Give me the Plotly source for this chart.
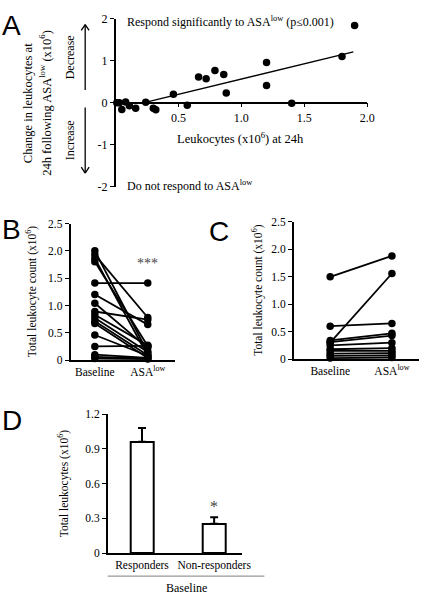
import plotly.graph_objects as go

W, H = 432, 604
SERIF = "Liberation Serif"
SANS = "Liberation Sans"

# ---------------- Data ----------------
# Panel A: leukocytes at 24h vs change following ASA-low
a_x = [0.01, 0.03, 0.05, 0.08, 0.11, 0.16, 0.24, 0.30, 0.32, 0.46, 0.57,
       0.66, 0.72, 0.79, 0.86, 0.88, 1.20, 1.20, 1.40, 1.80, 1.90]
a_y = [0.00, 0.00, -0.16, 0.02, -0.07, -0.13, 0.01, -0.13, -0.17, 0.20, -0.06,
       0.61, 0.57, 0.77, 0.67, 0.23, 0.96, 0.41, -0.01, 1.10, 1.84]
fit_slope, fit_intercept = 0.726, -0.162
fit_x = [0.22, 1.89]

# Panel B: responders, baseline -> ASA-low
b_categories = ["Baseline", "ASA<sup>low</sup>"]
b_baseline = [2.00, 1.93, 1.86, 1.80, 1.41, 1.20, 1.04, 0.89, 0.83, 0.77, 0.71,
              0.67, 0.46, 0.25, 0.10, 0.06, 0.03]
b_asa = [0.14, 0.78, 0.08, 0.26, 1.41, 0.65, 0.22, 0.74, 0.27, 0.15, 0.09,
         0.04, 0.08, 0.26, 0.04, 0.03, 0.02]

# Panel C: non-responders, baseline -> ASA-low
c_baseline = [1.50, 0.60, 0.30, 0.34, 0.31, 0.25, 0.18, 0.15, 0.10, 0.06, 0.02]
c_asa = [1.88, 0.65, 1.56, 0.47, 0.43, 0.30, 0.20, 0.15, 0.11, 0.07, 0.03]

# Panel D: baseline totals
d_categories = ["Responders", "Non-responders"]
d_values = [0.96, 0.253]
d_errors = [0.12, 0.057]

yticks_bc = [0, 0.5, 1.0, 1.5, 2.0, 2.5]
yticktext_bc = ["0", "0.5", "1.0", "1.5", "2.0", "2.5"]
yticks_d = [0, 0.3, 0.6, 0.9, 1.2]
yticktext_d = ["0", "0.3", "0.6", "0.9", "1.2"]


def px(x):
    return x / W


def py(y):
    return 1 - y / H


fig = go.Figure()

# ---- Panel A ----
fig.add_trace(go.Scatter(
    x=fit_x, y=[fit_slope * v + fit_intercept for v in fit_x],
    mode="lines", line=dict(color="black", width=1.3),
    xaxis="x", yaxis="y", showlegend=False, hoverinfo="skip"))
fig.add_trace(go.Scatter(
    x=a_x, y=a_y, mode="markers",
    marker=dict(color="black", size=7.5),
    xaxis="x", yaxis="y", showlegend=False, cliponaxis=False))

# ---- Panel B ----
for b0, b1 in zip(b_baseline, b_asa):
    fig.add_trace(go.Scatter(
        x=[0, 1], y=[b0, b1], mode="lines+markers",
        line=dict(color="black", width=1.8),
        marker=dict(color="black", size=7.5),
        xaxis="x2", yaxis="y2", showlegend=False, cliponaxis=False))

# ---- Panel C ----
for c0, c1 in zip(c_baseline, c_asa):
    fig.add_trace(go.Scatter(
        x=[0, 1], y=[c0, c1], mode="lines+markers",
        line=dict(color="black", width=1.8),
        marker=dict(color="black", size=7.5),
        xaxis="x3", yaxis="y3", showlegend=False, cliponaxis=False))

# ---- Panel D ----
fig.add_trace(go.Bar(
    x=[0, 1], y=d_values, width=0.32,
    marker=dict(color="white", line=dict(color="black", width=2)),
    error_y=dict(type="data", array=d_errors, arrayminus=[0, 0], symmetric=False,
                 color="black", thickness=2, width=4),
    xaxis="x4", yaxis="y4", showlegend=False))


def axis(size=12, **kw):
    d = dict(showgrid=False, zeroline=False, showline=True,
             linecolor="black", linewidth=1.5,
             tickfont=dict(family=SERIF, size=size, color="black"))
    d.update(kw)
    return d


fig.update_layout(
    width=W, height=H,
    margin=dict(l=0, r=0, t=0, b=0),
    paper_bgcolor="white", plot_bgcolor="rgba(0,0,0,0)",
    font=dict(family=SERIF, color="black"),
    bargap=0,
    xaxis=axis(12, domain=[px(118), px(375)], range=[0, 2], anchor="free",
               position=py(98), tickvals=[0.5, 1.0, 1.5, 2.0],
               ticktext=["0.5", "1.0", "1.5", "2.0"],
               ticks="outside", ticklen=4, tickcolor="black"),
    yaxis=axis(12, domain=[py(184), py(12)], range=[-2, 2], anchor="x",
               tickvals=[-2, -1, 0, 1, 2], ticktext=["-2", "-1", "0", "1", "2"],
               ticks="outside", ticklen=4, tickcolor="black"),
    xaxis2=axis(11.5, domain=[px(72), px(179)], range=[-0.46, 1.52], anchor="y2",
                tickvals=[0, 1], ticktext=b_categories, ticks=""),
    yaxis2=axis(11.5, domain=[py(361.5), py(221.7)], range=[0, 2.5], anchor="x2",
                tickvals=yticks_bc, ticktext=yticktext_bc,
                ticks="outside", ticklen=4, tickcolor="black"),
    xaxis3=axis(11.5, domain=[px(300), px(428)], range=[-0.59, 1.44], anchor="y3",
                tickvals=[0, 1], ticktext=b_categories, ticks=""),
    yaxis3=axis(11.5, domain=[py(360.5), py(220)], range=[0, 2.5], anchor="x3",
                tickvals=yticks_bc, ticktext=yticktext_bc,
                ticks="outside", ticklen=4, tickcolor="black"),
    xaxis4=axis(11.5, domain=[px(110), px(246.7)], range=[-0.475, 1.38], anchor="y4",
                tickvals=[0, 1], ticktext=d_categories, ticks=""),
    yaxis4=axis(11.5, domain=[py(559), py(416.7)], range=[0, 1.2], anchor="x4",
                tickvals=yticks_d, ticktext=yticktext_d,
                ticks="outside", ticklen=4, tickcolor="black"),
)

ann = []


def text(x, y, s, size=12, angle=0, family=SERIF, xanchor="center", color="black"):
    ann.append(dict(x=px(x), y=py(y), xref="paper", yref="paper", text=s,
                    showarrow=False, textangle=angle, xanchor=xanchor,
                    yanchor="middle", font=dict(family=family, size=size, color=color)))


# panel letters
text(12, 19, "A", size=28, family=SANS)
text(12, 228, "B", size=28, family=SANS)
text(224, 230, "C", size=28, family=SANS)
text(12, 423, "D", size=28, family=SANS)

# Panel A text
text(128, 15, "Respond significantly to ASA<sup>low</sup> (p≤0.001)", size=12, xanchor="left")
text(128, 183, "Do not respond to ASA<sup>low</sup>", size=12, xanchor="left")
text(246, 134, "Leukocytes (x10<sup>6</sup>) at 24h", size=12.5)
text(28, 98, "Change in leukocytes at", size=12.5, angle=-90)
text(46, 98, "24h following ASA<sup>low</sup> (x10<sup>6</sup>)", size=12.5, angle=-90)
text(71, 52, "Decrease", size=12, angle=-90)
text(71, 137, "Increase", size=12, angle=-90)

# Panel B/C/D axis titles
text(33, 291.6, "Total leukocyte count (x10<sup>6</sup>)", size=11.5, angle=-90)
text(263, 290, "Total leukocyte count (x10<sup>6</sup>)", size=11.5, angle=-90)
text(65, 488, "Total leukocytes (x10<sup>6</sup>)", size=11.5, angle=-90)
text(190, 595, "Baseline", size=12)

# significance stars
ann.append(dict(x=1, y=1.76, xref="x2", yref="y2", text="***", showarrow=False,
                font=dict(family=SERIF, size=14, color="#444")))
ann.append(dict(x=1, y=0.40, xref="x4", yref="y4", text="*", showarrow=False,
                font=dict(family=SERIF, size=16, color="#444")))

fig.update_layout(annotations=ann)

# arrows and grey underline (decorations)
shapes = []


def line(x0, y0, x1, y1, color="black", width=1.3):
    shapes.append(dict(type="line", xref="paper", yref="paper",
                       x0=px(x0), y0=py(y0), x1=px(x1), y1=py(y1),
                       line=dict(color=color, width=width)))


line(87, 18, 87, 85)
line(83, 24, 87, 18)
line(91, 24, 87, 18)
line(87, 103, 87, 170)
line(83, 164, 87, 170)
line(91, 164, 87, 170)
line(110, 582.7, 270, 582.7, color="#999", width=1.2)
fig.update_layout(shapes=shapes)

fig.write_html("out.html",
               config={"displayModeBar": False},
               post_script="document.body.style.margin='0';"
                           "document.body.style.overflow='hidden';")
